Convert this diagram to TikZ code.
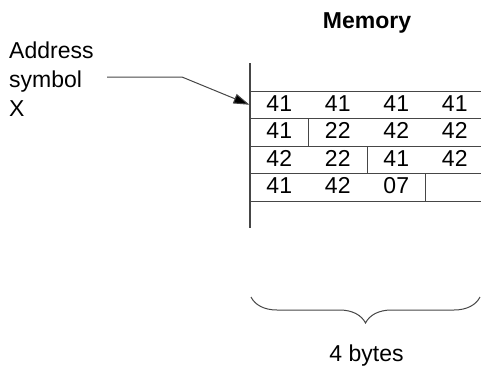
\documentclass[tikz,border=0pt]{standalone}
\usepackage{fontspec}
\setmainfont{Liberation Sans}
\usetikzlibrary{arrows.meta,positioning,decorations.pathreplacing}
\definecolor{memLine}{RGB}{70,70,70}
\definecolor{memText}{RGB}{0,0,0}

\begin{document}
\begin{tikzpicture}[x=1pt,y=-1pt,
  cell/.style={anchor=base,inner sep=0pt,text=memText,font=\fontsize{23}{29}\selectfont},
  rule/.style={memLine,line width=1pt}]
\useasboundingbox (0,0) rectangle (481,365);

\node[cell,font=\fontsize{23}{29}\selectfont\bfseries] (title) at (367,28) {Memory};

% memory column
\draw[memLine,line width=1.3pt] (250,63) -- (250,228);
\foreach \y in {91,118.5,146,173.5,201}
  \draw[rule] (250,\y) -- (481,\y);
\draw[rule] (308.5,118.5) -- (308.5,146);
\draw[rule] (367,146) -- (367,173.5);
\draw[rule] (425.5,173.5) -- (425.5,201);

% bytes, row by row
\foreach \vals [count=\r] in {{41,41,41,41},{41,22,42,42},{42,22,41,42},{41,42,07}}
  \foreach \v [count=\c] in \vals
    \node[cell] (b-\r-\c) at ({220.75+58.5*\c},{111+27.5*(\r-1)}) {\v};

% address label and pointer
\node[cell,anchor=north west,align=left] (addr) at (9,41.5) {Address\\symbol\\X};
\coordinate (tail) at (107,77);
\coordinate (bend) at (182,77);
\coordinate (slot) at (249.5,104.75);
\draw[rule,-{Triangle[length=16pt,width=10pt,fill=black]}] (tail) -- (bend) -- (slot);

% width of a row
\draw[rule,decorate,decoration={brace,mirror,amplitude=26pt}] (251,297) -- (480,297);
\node[cell] (size) at (366.5,361) {4 bytes};
\end{tikzpicture}
\end{document}
